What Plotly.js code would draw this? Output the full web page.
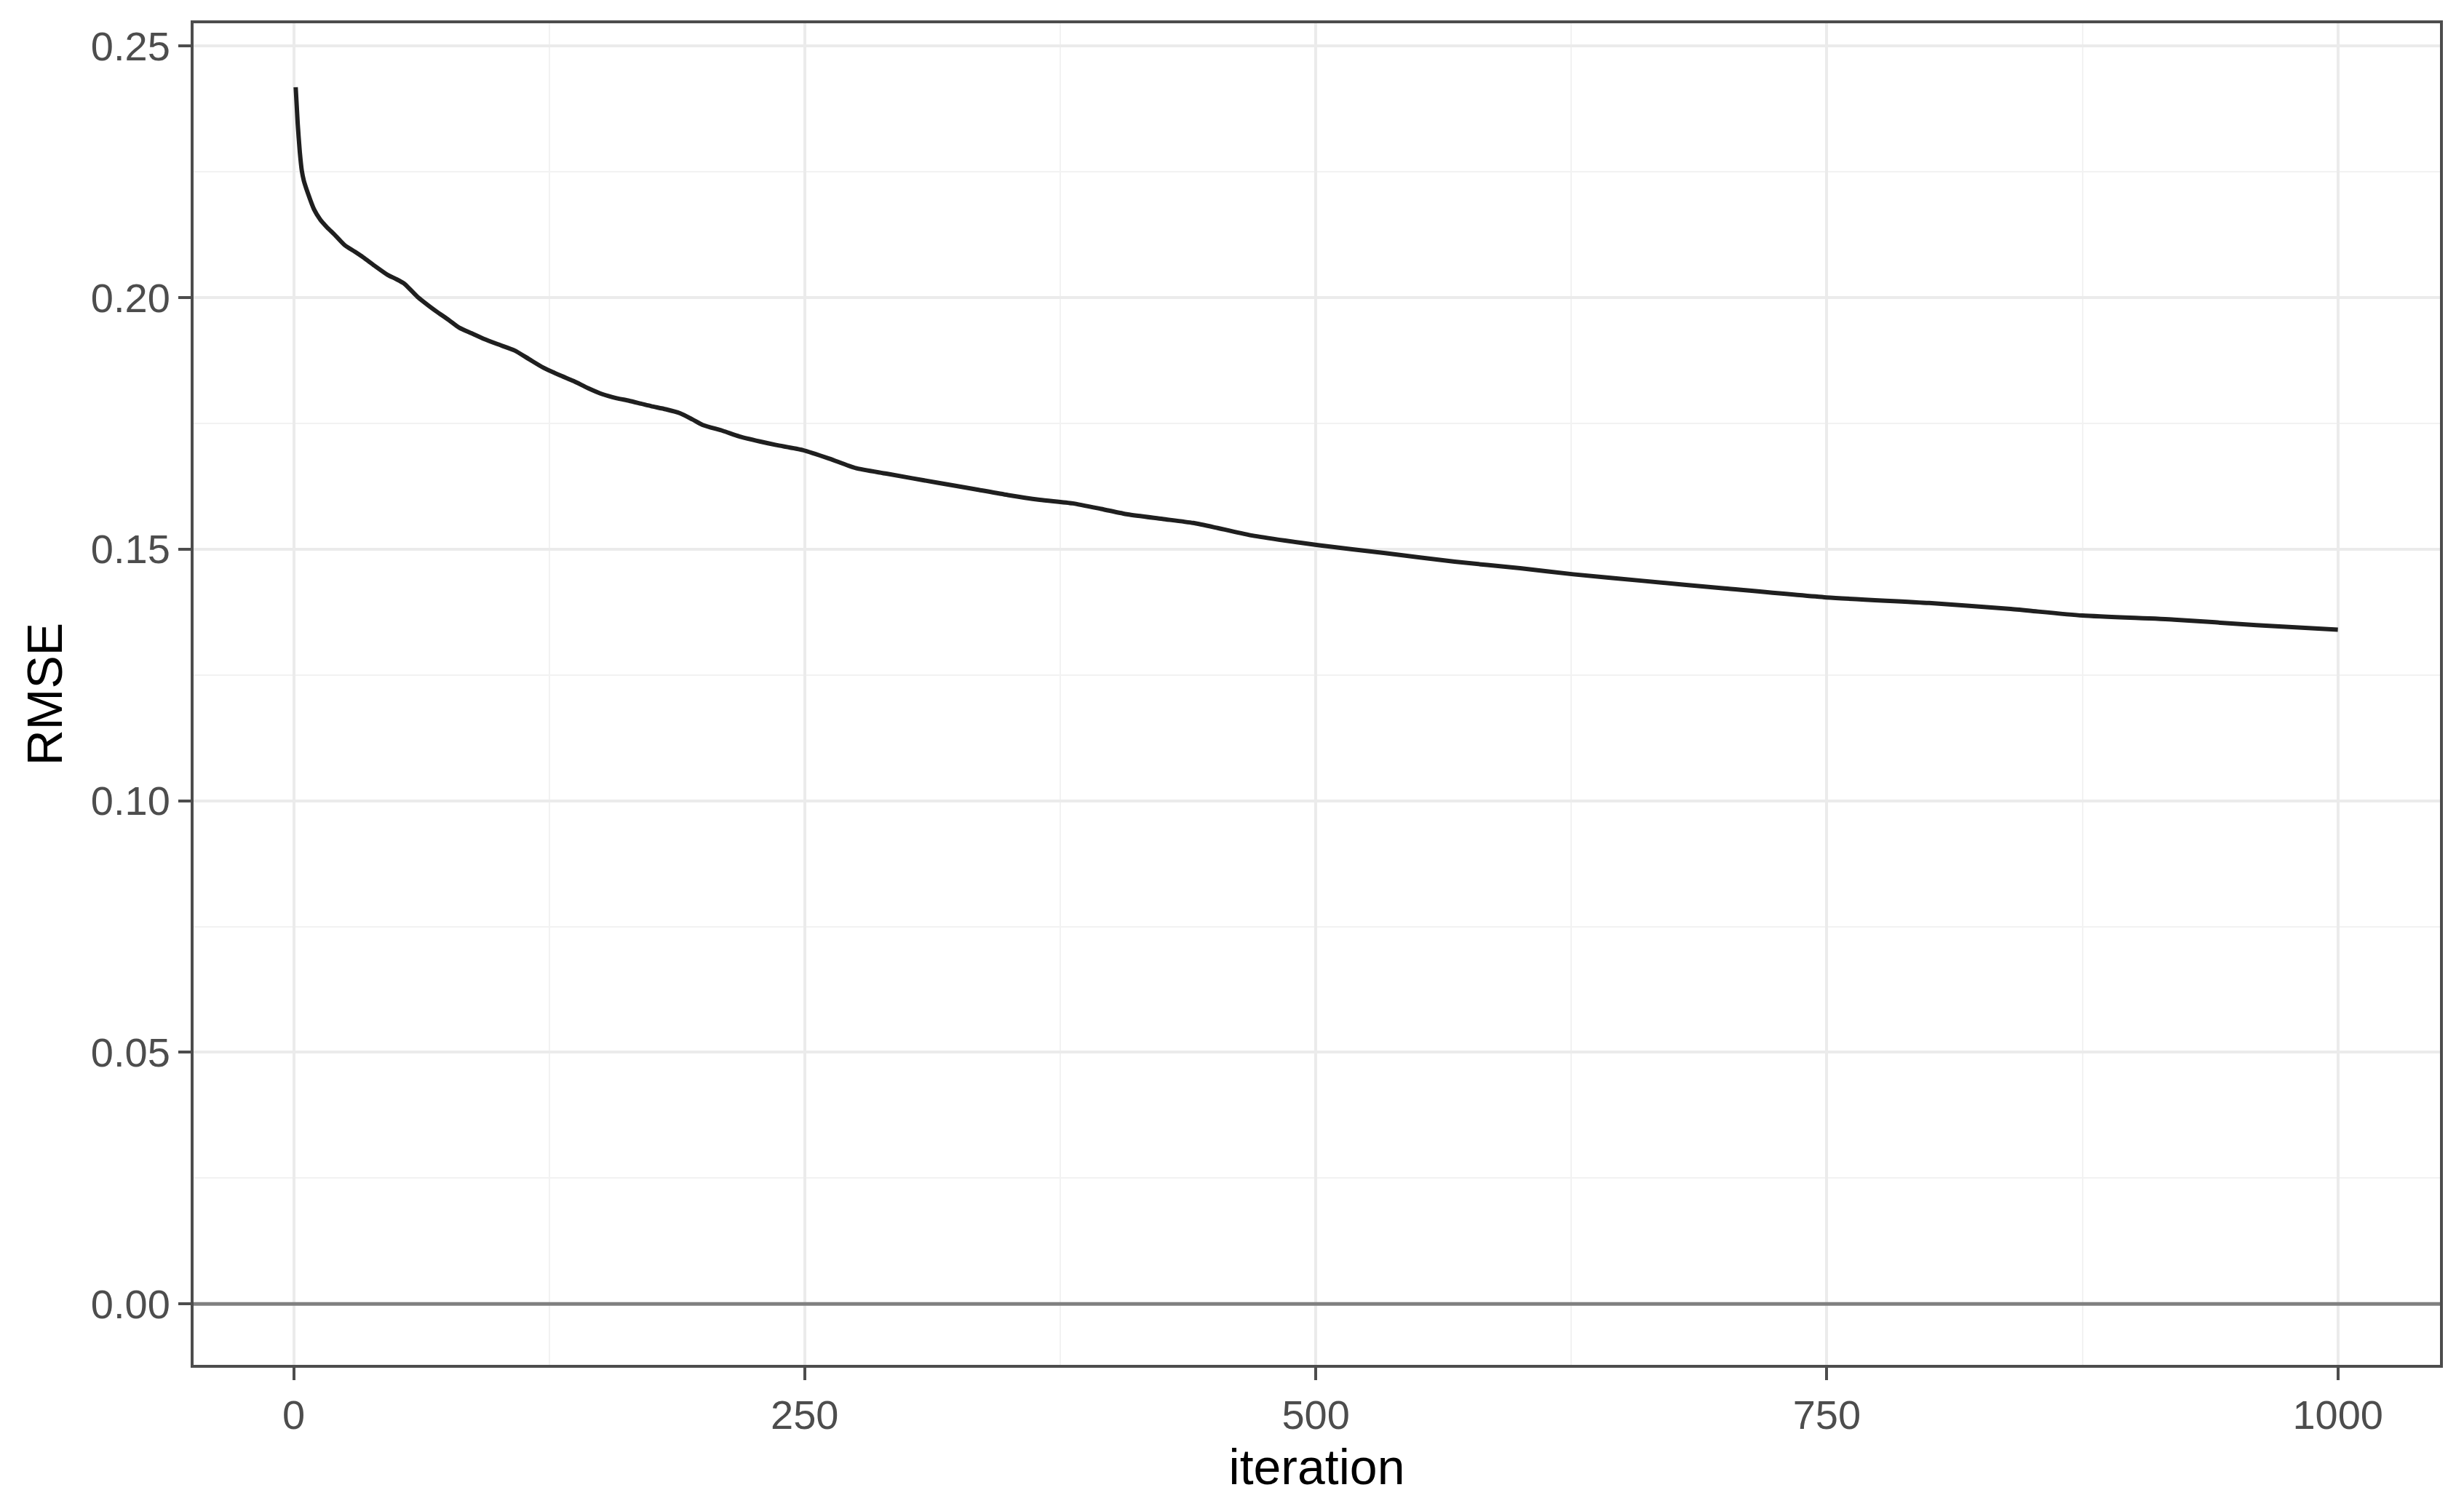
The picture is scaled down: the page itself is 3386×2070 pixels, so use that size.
<!DOCTYPE html>
<html>
<head>
<meta charset="utf-8">
<script src="https://cdn.plot.ly/plotly-3.0.1.min.js"></script>
<style>
  html, body { margin: 0; padding: 0; background: #fff; }
  #chart { width: 3386px; height: 2070px; }
</style>
</head>
<body>
<div id="chart"></div>
<script>
// --- Data ---
const iteration = [1, 2, 3, 4, 5, 7, 10, 13, 16, 20, 25, 30, 34, 40, 46, 50, 54, 58, 61, 66,
    70, 76, 81, 87, 93, 100, 108, 115, 122, 130, 137, 144, 151, 158, 164, 170, 175, 182, 189, 195,
    200, 210, 218, 228, 236, 249, 262, 275, 290, 315, 335, 350, 365, 381, 395, 408, 425, 440, 452, 469,
    485, 501, 534, 568, 600, 626, 660, 700, 750, 800, 840, 875, 920, 960, 1000];
const rmse = [0.2418, 0.2345, 0.2290, 0.2252, 0.2232, 0.2207, 0.2175, 0.2155, 0.2141, 0.2125,
    0.2104, 0.2091, 0.2080, 0.2062, 0.2045, 0.2037, 0.2028, 0.2012, 0.2000, 0.1984,
    0.1972, 0.1955, 0.1940, 0.1929, 0.1918, 0.1907, 0.1895, 0.1878, 0.1861, 0.1846,
    0.1834, 0.1820, 0.1808, 0.1800, 0.1795, 0.1789, 0.1784, 0.1778, 0.1770, 0.1758,
    0.1747, 0.1735, 0.1724, 0.1714, 0.1707, 0.1697, 0.1680, 0.1661, 0.1650, 0.1632,
    0.1618, 0.1607, 0.1598, 0.1591, 0.1580, 0.1569, 0.1560, 0.1552, 0.1542, 0.1527,
    0.1517, 0.1508, 0.1492, 0.1475, 0.1462, 0.1450, 0.1437, 0.1422, 0.1404, 0.1393,
    0.1381, 0.1368, 0.1360, 0.1349, 0.1340];

const xTicks = [0, 250, 500, 750, 1000];
const xMinor = [125, 375, 625, 875];
const yTicks = [0, 0.05, 0.10, 0.15, 0.20, 0.25];
const yTickText = ['0.00', '0.05', '0.10', '0.15', '0.20', '0.25'];
const yMinor = [0.025, 0.075, 0.125, 0.175, 0.225];
const refLine = 0;

// --- theme_bw look ---
const fontFamily = '"Liberation Sans", Arial, sans-serif';
const axisBase = {
    showline: true, mirror: true, linecolor: '#4d4d4d', linewidth: 4,
    ticks: 'outside', ticklen: 17, tickwidth: 4, tickcolor: '#4d4d4d',
    showgrid: true, gridcolor: '#ebebeb', gridwidth: 4,
    zeroline: false, automargin: false,
    tickfont: { family: fontFamily, size: 56, color: '#4d4d4d' }
};

Plotly.newPlot('chart', [{
    x: iteration, y: rmse,
    type: 'scatter', mode: 'lines',
    line: { color: '#1f1f1f', width: 6, shape: 'spline', smoothing: 0.6 },
    hoverinfo: 'skip'
}], {
    width: 3386, height: 2070,
    margin: { l: 266, r: 33, t: 32, b: 194 },
    paper_bgcolor: '#ffffff', plot_bgcolor: '#ffffff',
    showlegend: false,
    xaxis: {
        ...axisBase,
        range: [-48.95, 1049.95],
        tickmode: 'array', tickvals: xTicks,
        minor: { tickmode: 'array', tickvals: xMinor, showgrid: true, gridcolor: '#f2f2f2', gridwidth: 2, ticks: '' },
        title: { text: 'iteration', standoff: 18, font: { family: fontFamily, size: 68, color: '#000000' } }
    },
    yaxis: {
        ...axisBase,
        range: [-0.0121, 0.2545],
        tickmode: 'array', tickvals: yTicks, ticktext: yTickText,
        minor: { tickmode: 'array', tickvals: yMinor, showgrid: true, gridcolor: '#f2f2f2', gridwidth: 2, ticks: '' },
        title: { text: 'RMSE', standoff: 18, font: { family: fontFamily, size: 68, color: '#000000' } }
    },
    shapes: [{
        type: 'line', xref: 'paper', yref: 'y',
        x0: 0, x1: 1, y0: refLine, y1: refLine,
        line: { color: '#808080', width: 5 }
    }]
}, { displayModeBar: false, staticPlot: true });
</script>
</body>
</html>
